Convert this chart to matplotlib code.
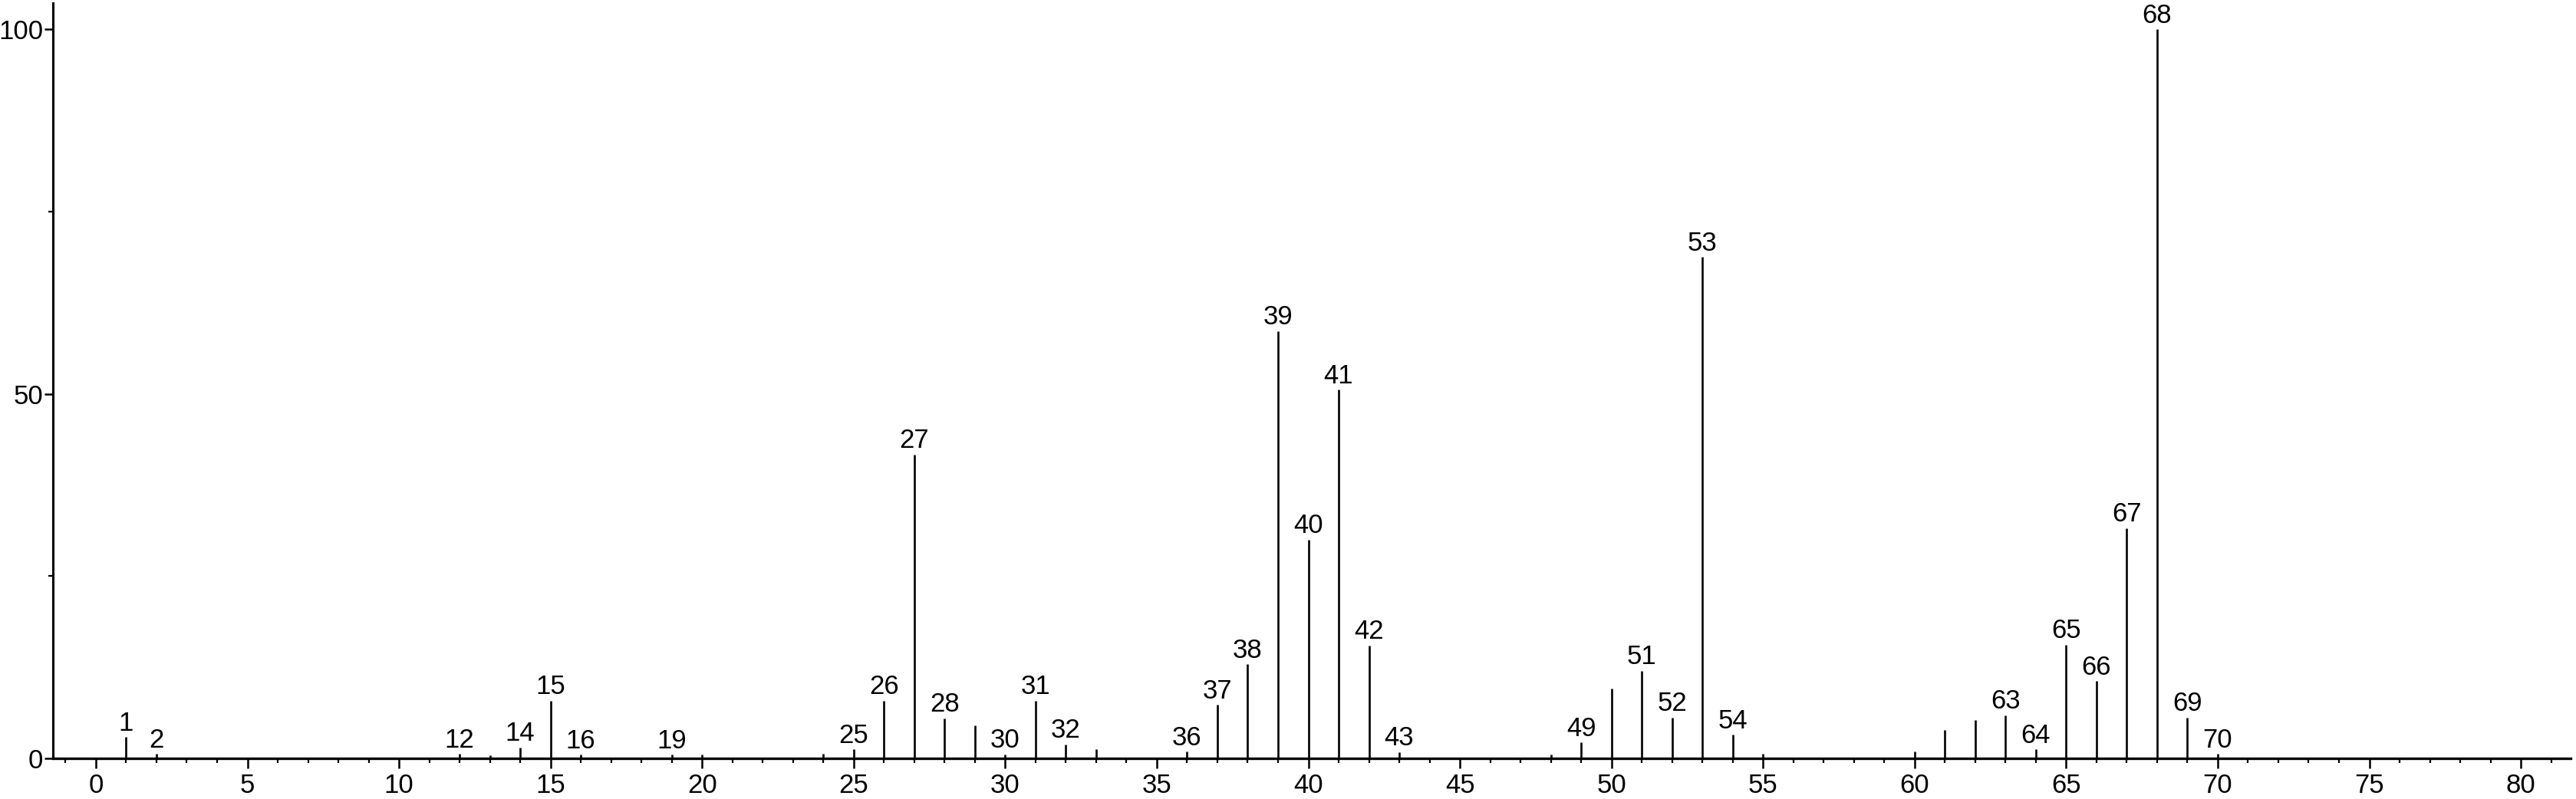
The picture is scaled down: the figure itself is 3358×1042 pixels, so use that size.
import matplotlib
matplotlib.use("Agg")
import matplotlib.pyplot as plt
from matplotlib.ticker import MultipleLocator

plt.rcParams['font.family'] = ['Liberation Sans', 'DejaVu Sans']

# m/z values and relative intensities
mz = [1, 2, 12, 13, 14, 15, 16, 19, 20, 24, 25, 26, 27, 28, 29, 30, 31, 32, 33,
      36, 37, 38, 39, 40, 41, 42, 43, 48, 49, 50, 51, 52, 53, 54, 55,
      60, 61, 62, 63, 64, 65, 66, 67, 68, 69, 70]
intensity = [2.9, 0.6, 0.6, 0.4, 1.5, 7.9, 0.5, 0.5, 0.5, 0.6, 1.2, 7.9, 41.7, 5.5, 4.5, 0.55, 7.9, 1.9, 1.3,
             0.9, 7.3, 12.9, 58.6, 30.0, 50.6, 15.5, 0.85, 0.55, 2.2, 9.6, 12.0, 5.6, 68.8, 3.2, 0.6,
             0.9, 3.9, 5.2, 5.9, 1.2, 15.6, 10.6, 31.6, 100.0, 5.6, 0.6]

# peaks that carry a label
labelled = [1, 2, 12, 14, 15, 16, 19, 25, 26, 27, 28, 30, 31, 32, 36, 37, 38, 39, 40,
            41, 42, 43, 49, 51, 52, 53, 54, 63, 64, 65, 66, 67, 68, 69, 70]

fig = plt.figure(figsize=(33.58, 10.42), dpi=100)
ax = fig.add_axes([0.0205, 0.051, 0.9775, 0.945])

ax.vlines(mz, 0, intensity, color='black', linewidth=1.9)

for x, y in zip(mz, intensity):
    if x in labelled:
        ax.annotate(str(x), (x, y), xytext=(0, 1), textcoords='offset points',
                    ha='center', va='bottom', fontsize=25)

ax.set_xlim(-1.42, 81.65)
ax.set_ylim(0, 103.6)

ax.spines['top'].set_visible(False)
ax.spines['right'].set_visible(False)
ax.spines['bottom'].set_linewidth(2.4)
ax.spines['left'].set_linewidth(2.2)

ax.xaxis.set_major_locator(MultipleLocator(5))
ax.xaxis.set_minor_locator(MultipleLocator(1))
ax.yaxis.set_major_locator(MultipleLocator(50))
ax.yaxis.set_minor_locator(MultipleLocator(25))

ax.tick_params(axis='x', which='major', length=9, width=1.8, labelsize=25, pad=5)
ax.tick_params(axis='x', which='minor', length=4, width=1.6)
ax.tick_params(axis='y', which='major', length=8, width=1.8, labelsize=25, pad=1)
ax.tick_params(axis='y', which='minor', length=4, width=1.6)

fig.savefig("out.png", dpi=100)
